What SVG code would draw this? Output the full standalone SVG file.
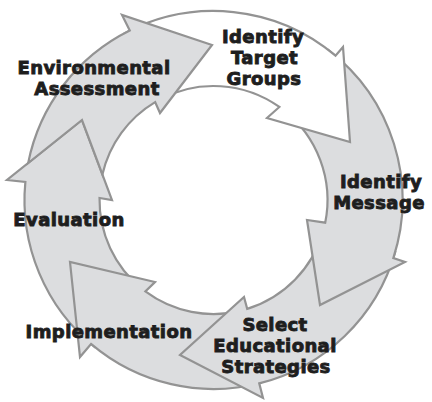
<svg xmlns="http://www.w3.org/2000/svg" width="432" height="402" viewBox="0 0 432 402">
<style>
.arr{fill:#dcdddf;stroke:#939393;stroke-width:2.2;stroke-linejoin:miter}
.white{fill:#ffffff}
.lbl{font-family:"DejaVu Sans","Liberation Sans",Arial,sans-serif;font-weight:bold;font-size:18px;fill:#1e1e1e;stroke:#1e1e1e;stroke-width:0.9;text-anchor:middle;letter-spacing:0.4px}
</style>
<rect width="432" height="402" fill="#ffffff"/>
<g id="evaluation">
<path class="arr" d="M 94.56 346.87 A 189 189 0 0 1 25.37 181.89 L 7 180 L 82 120 L 112 200 L 99.52 198.01 A 114 114 0 0 0 141.76 288.59 Z"/>
<text class="lbl" x="69" y="226">Evaluation</text>
</g>
<g id="implementation">
<path class="arr" d="M 260.82 382.97 A 189 189 0 0 1 91.01 343.93 L 80 357 L 70 262 L 155 282 L 145.37 291.41 A 114 114 0 0 0 242.04 310.36 Z"/>
<text class="lbl" x="109" y="338">Implementation</text>
</g>
<g id="select-educational-strategies">
<path class="arr" d="M 395.18 252.09 A 189 189 0 0 1 259.22 383.38 L 263 398 L 180 355 L 244 297 L 247.2 308.9 A 114 114 0 0 0 323.09 231.42 Z"/>
<text class="lbl"><tspan x="275" y="330.5">Select</tspan><tspan x="275" y="351.5">Educational</tspan><tspan x="276" y="372.5">Strategies</tspan></text>
</g>
<g id="identify-message">
<path class="arr" d="M 328.56 50.05 A 189 189 0 0 1 393.35 258.1 L 405 262 L 320 305 L 307 220 L 325.2 222.7 A 114 114 0 0 0 282.9 109.55 Z"/>
<text class="lbl"><tspan x="381" y="187.5">Identify</tspan><tspan x="379" y="208.5">Message</tspan></text>
</g>
<g id="identify-target-groups">
<path class="arr white" d="M 124.77 33.13 A 189 189 0 0 1 335.5 55.64 L 343 47 L 350 142 L 267 118 L 279.38 106.96 A 114 114 0 0 0 159.98 99.35 Z"/>
<text class="lbl"><tspan x="263" y="42.5">Identify</tspan><tspan x="264.5" y="63.5">Target</tspan><tspan x="264" y="84.5">Groups</tspan></text>
</g>
<g id="environmental-assessment">
<path class="arr" d="M 28.14 163.09 A 189 189 0 0 1 129.76 30.56 L 122 15 L 212 45 L 160 113 L 155.13 102.07 A 114 114 0 0 0 102.41 174.42 L 82 120 Z"/>
<text class="lbl"><tspan x="94" y="73.5">Environmental</tspan><tspan x="97" y="94.5">Assessment</tspan></text>
</g>
</svg>
